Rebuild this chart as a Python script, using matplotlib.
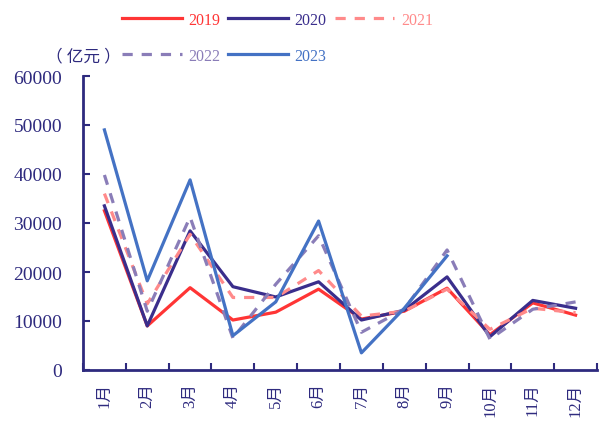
import matplotlib
matplotlib.use("Agg")
import matplotlib.pyplot as plt
from matplotlib.ticker import FixedLocator, NullFormatter

plt.rcParams['font.family'] = ['Liberation Serif', 'Noto Sans CJK SC']

months = ['1月', '2月', '3月', '4月', '5月', '6月', '7月', '8月', '9月', '10月', '11月', '12月']
v2019 = [32500, 9000, 16800, 10200, 11800, 16500, 10400, 12000, 16700, 7200, 13700, 11200]
v2020 = [33500, 9000, 28400, 17000, 14900, 18000, 10200, 12200, 19000, 6800, 14200, 12600]
v2021 = [36000, 13500, 27700, 14800, 14800, 20300, 11000, 12000, 16500, 8300, 12600, 11700]
v2022 = [39800, 12000, 31200, 6500, 17500, 27400, 7700, 12400, 24500, 6300, 12400, 13900]
v2023 = [49000, 18200, 38800, 7000, 13900, 30400, 3500, 12600, 23300]
yticks = [0, 10000, 20000, 30000, 40000, 50000, 60000]

navy = '#2E2A7E'
c2019, c2020, c2021, c2022, c2023 = '#FF3535', '#3A2E8C', '#FF8A8A', '#8A7DB8', '#4472C4'

fig = plt.figure(figsize=(6.05, 4.27), dpi=100)
ax = fig.add_axes([83/605, 56/427, 514/605, 294/427])

x = list(range(12))
lw = 2.3
h1, = ax.plot(x, v2019, color=c2019, lw=lw, label='2019')
h2, = ax.plot(x, v2020, color=c2020, lw=lw, label='2020')
h3, = ax.plot(x, v2021, color=c2021, lw=lw, dashes=(3.2, 2.8), label='2021')
h4, = ax.plot(x, v2022, color=c2022, lw=lw, dashes=(3.2, 2.8), label='2022')
h5, = ax.plot(x[:len(v2023)], v2023, color=c2023, lw=lw, label='2023')

ax.set_xlim(-0.5, 11.5)
ax.set_ylim(0, 60000)
ax.set_yticks(yticks)
ax.set_yticklabels([str(v) for v in yticks], fontsize=14, color=navy)

ax.xaxis.set_major_locator(FixedLocator([i - 0.5 for i in range(13)]))
ax.xaxis.set_major_formatter(NullFormatter())
ax.xaxis.set_minor_locator(FixedLocator(x))
ax.set_xticklabels(months, minor=True, rotation=90, fontsize=12, color=navy)
ax.tick_params(axis='x', which='major', direction='in', length=5, width=1.5, color=navy)
ax.tick_params(axis='x', which='minor', length=0, pad=9)
ax.tick_params(axis='y', direction='in', length=5, width=1.5, color=navy, pad=15)

for s in ['top', 'right']:
    ax.spines[s].set_visible(False)
for s in ['left', 'bottom']:
    ax.spines[s].set_color(navy)
    ax.spines[s].set_linewidth(2)

handles = [h1, h4, h2, h5, h3]
labels = [h.get_label() for h in handles]
leg = fig.legend(handles, labels, ncol=3, loc='upper left',
                 bbox_to_anchor=(122/605, 1 - 13/427), frameon=False,
                 fontsize=11.5, handlelength=3.75, handletextpad=0.4,
                 columnspacing=0.5, labelspacing=1.25, borderpad=0,
                 borderaxespad=0, labelcolor='linecolor')

fig.text(46/605, 1 - 57/427, '（ 亿元 ）', fontsize=12, color=navy, va='center', ha='left')

fig.savefig('out.png', dpi=100)
